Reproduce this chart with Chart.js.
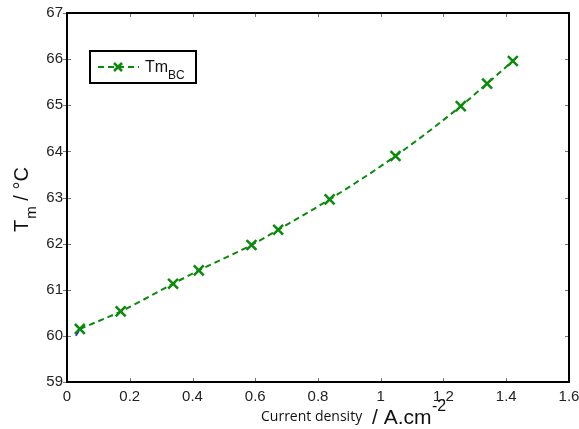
<!DOCTYPE html>
<html>
<head>
<meta charset="utf-8">
<script src="https://cdn.jsdelivr.net/npm/chart.js@4"></script>
<style>
  html, body { margin: 0; padding: 0; background: #fff; }
  #wrap { width: 579px; height: 429px; }
</style>
</head>
<body>
<div id="wrap"><canvas id="tmChart" width="579" height="429"></canvas></div>
<script>
// data
const currentDensity = [0.041, 0.171, 0.338, 0.420, 0.588, 0.673, 0.837, 1.047, 1.255, 1.339, 1.421];
const tmBC = [60.15, 60.53, 61.13, 61.42, 61.97, 62.30, 62.96, 63.90, 64.98, 65.47, 65.96];
// tiny blue stub visible under the first point
const stubX = [0.028, 0.038];
const stubY = [60.0, 60.1];

const xTicks = [0, 0.2, 0.4, 0.6, 0.8, 1, 1.2, 1.4, 1.6];
const yTicks = [59, 60, 61, 62, 63, 64, 65, 66, 67];

const green = '#0a8a0a';

const framePlugin = {
  id: 'frame',
  afterDraw(chart) {
    const ctx = chart.ctx;
    const a = chart.chartArea;
    const xs = chart.scales.x, ys = chart.scales.y;
    ctx.save();
    // inward tick marks
    ctx.strokeStyle = '#777';
    ctx.lineWidth = 1;
    xTicks.forEach(v => {
      const px = Math.round(xs.getPixelForValue(v)) + 0.5;
      ctx.beginPath();
      ctx.moveTo(px, a.bottom); ctx.lineTo(px, a.bottom - 4);
      ctx.moveTo(px, a.top); ctx.lineTo(px, a.top + 4);
      ctx.stroke();
    });
    yTicks.forEach(v => {
      const py = Math.round(ys.getPixelForValue(v)) + 0.5;
      ctx.beginPath();
      ctx.moveTo(a.left - 4, py); ctx.lineTo(a.left + 4, py);
      ctx.moveTo(a.right, py); ctx.lineTo(a.right - 4, py);
      ctx.stroke();
    });
    // frame
    ctx.strokeStyle = '#000';
    ctx.lineWidth = 2;
    ctx.strokeRect(a.left, a.top, a.right - a.left, a.bottom - a.top);

    // legend box
    ctx.fillStyle = '#fff';
    ctx.fillRect(90, 51, 106, 32);
    ctx.strokeStyle = '#000';
    ctx.lineWidth = 2;
    ctx.strokeRect(90, 51, 106, 32);
    ctx.strokeStyle = green;
    ctx.lineWidth = 2;
    ctx.setLineDash([6, 4]);
    ctx.beginPath();
    ctx.moveTo(98, 67); ctx.lineTo(139, 67);
    ctx.stroke();
    ctx.setLineDash([]);
    ctx.lineWidth = 2.5;
    ctx.beginPath();
    ctx.moveTo(114, 63); ctx.lineTo(122, 71);
    ctx.moveTo(122, 63); ctx.lineTo(114, 71);
    ctx.stroke();
    ctx.fillStyle = '#111';
    ctx.textBaseline = 'alphabetic';
    ctx.textAlign = 'left';
    ctx.font = '16px "Liberation Sans", Arial, sans-serif';
    ctx.fillText('Tm', 145, 72);
    ctx.font = '12px "Liberation Sans", Arial, sans-serif';
    ctx.fillText('BC', 168, 79);

    // y axis title: T_m / °C rotated
    ctx.save();
    ctx.translate(28, 232);
    ctx.rotate(-Math.PI / 2);
    ctx.font = '20px "Liberation Sans", Arial, sans-serif';
    ctx.fillText('T', 0, 0);
    let w = ctx.measureText('T').width;
    ctx.font = '15px "Liberation Sans", Arial, sans-serif';
    ctx.fillText('m', w + 1, 8);
    w += 1 + ctx.measureText('m').width;
    ctx.font = '20px "Liberation Sans", Arial, sans-serif';
    ctx.fillText(' / °C', w, 0);
    ctx.restore();

    // x axis title
    ctx.font = '14px "Open Sans", "DejaVu Sans", sans-serif';
    ctx.fillText('Current density', 261, 421);
    ctx.font = '21px "Liberation Sans", Arial, sans-serif';
    ctx.fillText('/ A.cm', 372, 424);
    ctx.font = '16px "Liberation Sans", Arial, sans-serif';
    ctx.fillText('-2', 432, 411);
    ctx.restore();
  }
};

new Chart(document.getElementById('tmChart').getContext('2d'), {
  type: 'line',
  data: {
    datasets: [
      {
        label: 'TmBC',
        data: currentDensity.map((x, i) => ({ x: x, y: tmBC[i] })),
        borderColor: green,
        backgroundColor: green,
        borderWidth: 2,
        borderDash: [6, 4],
        cubicInterpolationMode: 'monotone',
        pointStyle: 'crossRot',
        pointRadius: 7,
        pointBorderWidth: 2.5,
        pointBorderColor: green,
        fill: false
      },
      {
        label: 'stub',
        data: stubX.map((x, i) => ({ x: x, y: stubY[i] })),
        borderColor: '#1a1aff',
        borderWidth: 1.5,
        pointRadius: 0,
        fill: false
      }
    ]
  },
  plugins: [framePlugin],
  options: {
    responsive: false,
    animation: false,
    layout: { padding: { top: 13, right: 10, left: 0, bottom: 0 } },
    plugins: {
      legend: { display: false },
      tooltip: { enabled: false }
    },
    scales: {
      x: {
        type: 'linear',
        min: 0,
        max: 1.6,
        afterBuildTicks: s => { s.ticks = xTicks.map(v => ({ value: v })); },
        afterFit: s => { s.height = 47; s.paddingLeft = 0; s.paddingRight = 0; },
        grid: { display: false, drawTicks: false },
        border: { display: false },
        ticks: {
          padding: 6,
          color: '#222',
          font: { family: '"Liberation Sans", Arial, sans-serif', size: 15 },
          maxRotation: 0,
          autoSkip: false,
          callback: v => String(Number(v.toFixed(1)))
        }
      },
      y: {
        type: 'linear',
        min: 59,
        max: 67,
        afterBuildTicks: s => { s.ticks = yTicks.map(v => ({ value: v })); },
        afterFit: s => { s.width = 67; s.paddingTop = 0; s.paddingBottom = 0; },
        grid: { display: false, drawTicks: false },
        border: { display: false },
        ticks: {
          padding: 4,
          color: '#222',
          font: { family: '"Liberation Sans", Arial, sans-serif', size: 15 },
          autoSkip: false,
          callback: v => String(v)
        }
      }
    }
  }
});
</script>
</body>
</html>
